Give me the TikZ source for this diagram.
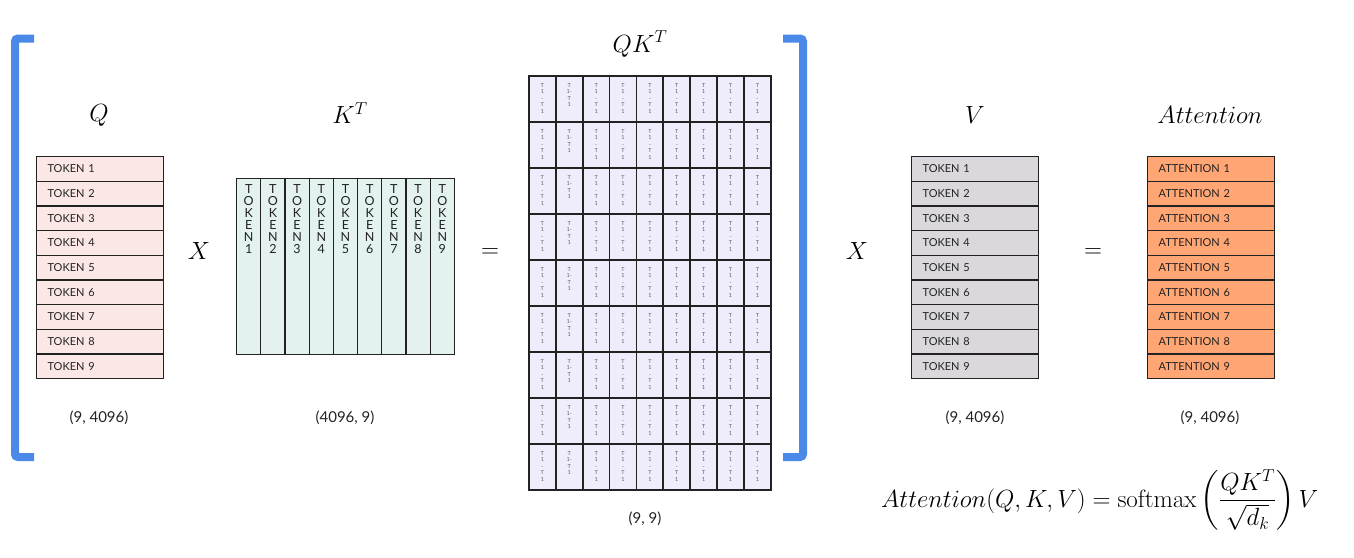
\documentclass[tikz,border=0pt]{standalone}
\usepackage{amsmath}
\usepackage{fontspec}
\newfontfamily\tokfont{Lato}
\usetikzlibrary{calc}
\definecolor{qfill}{RGB}{251,232,230}
\definecolor{kfill}{RGB}{227,242,238}
\definecolor{qkfill}{RGB}{239,237,251}
\definecolor{vfill}{RGB}{218,216,220}
\definecolor{afill}{RGB}{255,166,116}
\definecolor{linec}{RGB}{34,34,34}
\definecolor{brblue}{RGB}{74,137,232}
\definecolor{tinyc}{RGB}{90,90,90}
\begin{document}
\begin{tikzpicture}[x=1pt,y=-1pt,
  rowcell/.style={draw=linec, line width=1.2pt, anchor=north west, inner ysep=0pt,
    inner xsep=11pt, text width=105pt, minimum height=24.67pt, align=left,
    font=\tokfont\fontsize{11}{12}\selectfont, text=linec},
  colcell/.style={draw=linec, line width=1.2pt, anchor=north west, inner sep=0pt,
    minimum width=24.2pt, minimum height=176pt},
  coltext/.style={anchor=north, inner sep=0pt, align=center,
    font=\tokfont\fontsize{12.5}{12}\selectfont, text=linec},
  qkcell/.style={draw=linec, line width=1.8pt, fill=qkfill, anchor=north west, inner sep=0pt,
    minimum width=26.89pt, minimum height=46pt},
  tinytext/.style={anchor=north, inner sep=0pt, align=center,
    font=\tokfont\fontsize{5.5}{6.6}\selectfont, text=tinyc},
  title/.style={font=\fontsize{26}{30}\selectfont, inner sep=0pt},
  dimlabel/.style={font=\tokfont\fontsize{15}{17}\selectfont, text=linec, inner sep=0pt},
  opsym/.style={font=\fontsize{24}{28}\selectfont, inner sep=0pt},
  bracket/.style={draw=brblue, line width=8pt, rounded corners=3pt}]
\useasboundingbox (0,0) rectangle (1354,557);

% brackets
\coordinate (lbt) at (34,38.5);
\coordinate (lbb) at (34,457);
\coordinate (rbt) at (783,38.5);
\coordinate (rbb) at (783,457);
\draw[bracket] (lbt) -- (15,38.5) -- (15,457) -- (lbb);
\draw[bracket] (rbt) -- (803,38.5) -- (803,457) -- (rbb);

% Q
\foreach \i in {1,...,9} {
  \node[rowcell, fill=qfill] (q\i) at (36,{156+(\i-1)*24.67}) {TOKEN \i};
}
\node[title] (qtitle) at (99,115) {$Q$};
\node[dimlabel] (qdim) at (99,418) {(9, 4096)};

% X
\node[opsym] (x1) at (199,251) {$X$};

% K^T
\foreach \i in {1,...,9} {
  \node[colcell, fill=kfill] (k\i) at ({236+(\i-1)*24.2},178) {};
  \node[coltext] (kt\i) at ($(k\i.north)+(0,6)$) {T\\O\\K\\E\\N\\\i};
}
\node[title] (ktitle) at (350,113) {$K^T$};
\node[dimlabel] (kdim) at (345,418) {(4096, 9)};

% =
\node[opsym] (eq1) at (490,253) {$=$};

% QK^T
\foreach \r in {1,...,9} {
  \foreach \c in {1,...,9} {
    \node[qkcell] (m\r\c) at ({528+(\c-1)*26.89},{75+(\r-1)*46}) {};
    \ifnum\c=2
      \node[tinytext] (mt\r\c) at ($(m\r\c.north)+(0,8)$) {T\\1-\\T\\1};
    \else
      \node[tinytext] (mt\r\c) at ($(m\r\c.north)+(0,8)$) {T\\1\\-\\T\\1};
    \fi
  }
}
\node[title] (qktitle) at (640,44) {$QK^T$};
\node[dimlabel] (qkdim) at (645,519) {(9, 9)};

% X
\node[opsym] (x2) at (857,251) {$X$};

% V
\foreach \i in {1,...,9} {
  \node[rowcell, fill=vfill] (v\i) at (911,{156+(\i-1)*24.67}) {TOKEN \i};
}
\node[title] (vtitle) at (975,115) {$V$};
\node[dimlabel] (vdim) at (975,418) {(9, 4096)};

% =
\node[opsym] (eq2) at (1093,253) {$=$};

% Attention
\foreach \i in {1,...,9} {
  \node[rowcell, fill=afill] (a\i) at (1147,{156+(\i-1)*24.67}) {ATTENTION \i};
}
\node[title] (atitle) at (1210,115) {$Attention$};
\node[dimlabel] (adim) at (1210,418) {(9, 4096)};

% formula
\node[font=\fontsize{25}{30}\selectfont, inner sep=0pt, anchor=west] (formula) at (881,500)
  {$Attention(Q,K,V)=\mathrm{softmax}\left(\dfrac{QK^T}{\sqrt{d_k}}\right)V$};
\end{tikzpicture}
\end{document}
